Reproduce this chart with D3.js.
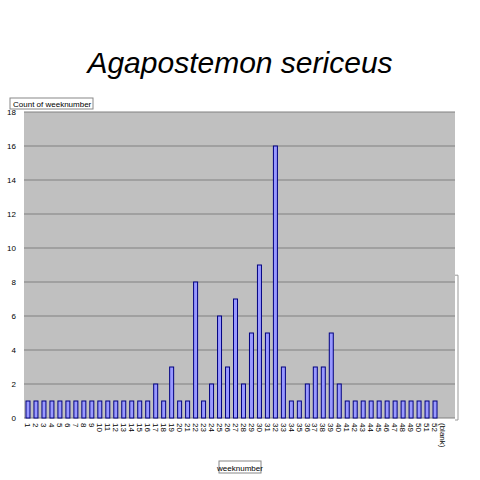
<!DOCTYPE html><html><head><script src="https://cdn.jsdelivr.net/npm/d3@7"></script>
<style>body{margin:0;background:#fff}</style></head><body><svg id="c" width="480" height="480"></svg><script>
const categories=[...Array.from({length:52},(_,i)=>String(i+1)),"(blank)"];
const counts=[1,1,1,1,1,1,1,1,1,1,1,1,1,1,1,1,2,1,3,1,1,8,1,2,6,3,7,2,5,9,5,16,3,1,1,2,3,3,5,2,1,1,1,1,1,1,1,1,1,1,1,1,0];
const yTicks=[0,2,4,6,8,10,12,14,16,18];
const svg=d3.select("#c");
const L=24,R=455,T=112,B=418;
const x=d3.scaleBand().domain(categories).range([L,R-8]).paddingInner(0.5).paddingOuter(0.25);
const y=d3.scaleLinear().domain([0,18]).range([B,T]);
svg.append("rect").attr("x",L).attr("y",T).attr("width",R-L).attr("height",B-T).attr("fill","#c0c0c0");
svg.append("g").selectAll("line").data(yTicks).join("line").attr("x1",L).attr("x2",R).attr("y1",d=>y(d)).attr("y2",d=>y(d)).attr("stroke","#808080").attr("stroke-width",1);
svg.append("path").attr("d",`M${R},${y(8.4)}H${R+3}V${B+2}H${R}`).attr("fill","none").attr("stroke","#999");
const ya=svg.append("g").attr("transform",`translate(${L},0)`).call(d3.axisLeft(y).tickValues(yTicks).tickSize(0).tickPadding(8));
ya.select(".domain").remove();
ya.selectAll("text").attr("font-family","Liberation Sans, Arial").attr("font-size",8).attr("fill","#000");
svg.append("g").selectAll("rect").data(counts).join("rect")
 .attr("x",(d,i)=>x(categories[i])).attr("width",x.bandwidth())
 .attr("y",d=>y(d)).attr("height",d=>B-y(d))
 .attr("fill","#9999ff").attr("stroke","#000080").attr("stroke-width",1);
const xa=svg.append("g").attr("transform",`translate(0,${B})`).call(d3.axisBottom(x).tickSize(0).tickPadding(0));
xa.select(".domain").remove();
xa.selectAll("text").attr("font-family","Liberation Sans, Arial").attr("font-size",8).attr("fill","#000")
 .attr("transform","rotate(90)").attr("text-anchor","start").attr("x",5).attr("y",0).attr("dy","0.35em");
svg.append("text").attr("x",240).attr("y",73).attr("text-anchor","middle").attr("font-family","Liberation Sans, Arial").attr("font-style","italic").attr("font-size",30).text("Agapostemon sericeus");
svg.append("rect").attr("x",10).attr("y",98).attr("width",83).attr("height",11).attr("fill","#fff").attr("stroke","#888");
svg.append("text").attr("x",13).attr("y",106.5).attr("font-family","Liberation Sans, Arial").attr("font-size",8).text("Count of weeknumber");
svg.append("rect").attr("x",219).attr("y",461).attr("width",42).attr("height",12).attr("fill","#fff").attr("stroke","#888");
svg.append("text").attr("x",240).attr("y",470.5).attr("text-anchor","middle").attr("font-family","Liberation Sans, Arial").attr("font-size",8).text("weeknumber");
</script></body></html>
